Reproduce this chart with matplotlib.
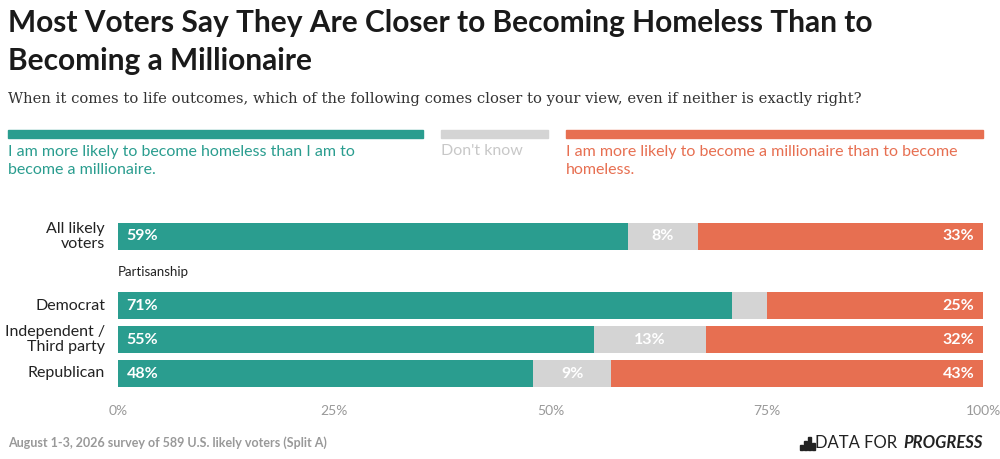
import matplotlib.pyplot as plt
from matplotlib.patches import Rectangle

groups = ['All likely\nvoters', 'Democrat', 'Independent /\nThird party', 'Republican']
homeless = [59, 71, 55, 48]
dont_know = [8, 4, 13, 9]
millionaire = [33, 25, 32, 43]
show_dk = [True, False, True, True]
ticks = [0, 25, 50, 75, 100]

GREEN = '#2a9d8f'
GREY = '#d4d4d4'
ORANGE = '#e76f51'

fig = plt.figure(figsize=(10, 4.59), dpi=100)
W, H = 1000, 459

def fx(px):
    return px / W

def fy(py):
    return 1 - py / H

fig.text(fx(8), fy(42), 'Most Voters Say They Are Closer to Becoming Homeless Than to\nBecoming a Millionaire',
         fontsize=21.5, fontweight='bold', family='Lato', va='center', color='#1a1a1a', linespacing=1.4)
fig.text(fx(8), fy(99), 'When it comes to life outcomes, which of the following comes closer to your view, even if neither is exactly right?',
         fontsize=10.6, family='DejaVu Serif', va='center', color='#333333')

# legend bars
for x0, x1, c in [(8, 423, GREEN), (441, 548, GREY), (566, 983, ORANGE)]:
    fig.patches.append(Rectangle((fx(x0), fy(138)), fx(x1 - x0), 8 / H, color=c, transform=fig.transFigure))
fig.text(fx(8), fy(161), 'I am more likely to become homeless than I am to\nbecome a millionaire.', color=GREEN,
         fontsize=11.5, family='Lato', va='center', linespacing=1.3)
fig.text(fx(441), fy(151), "Don't know", color='#c8c8c8', fontsize=11.5, family='Lato', va='center')
fig.text(fx(566), fy(161), 'I am more likely to become a millionaire than to become\nhomeless.', color=ORANGE,
         fontsize=11.5, family='Lato', va='center', linespacing=1.3)

ax = fig.add_axes([fx(118), fy(400), fx(983 - 118), (400 - 212) / H])
ax.set_xlim(0, 100)
ax.set_ylim(400, 212)
ypos = [236.5, 305.5, 339.5, 373.5]
for y, g, h, d, m, s in zip(ypos, groups, homeless, dont_know, millionaire, show_dk):
    ax.barh(y, h, height=27, color=GREEN)
    ax.barh(y, d, left=h, height=27, color=GREY)
    ax.barh(y, m, left=h + d, height=27, color=ORANGE)
    kw = dict(color='white', fontweight='bold', fontsize=11.5, family='Lato', va='center')
    ax.text(1, y, f'{h}%', ha='left', **kw)
    if s:
        ax.text(h + d / 2, y, f'{d}%', ha='center', **kw)
    ax.text(99, y, f'{m}%', ha='right', **kw)
    ax.text(-1.5, y, g, ha='right', va='center', fontsize=11.5, family='Lato', color='#222222', linespacing=1.1)
ax.text(0, 272, 'Partisanship', fontsize=9.5, family='Lato', va='center', color='#222222')
ax.axis('off')
for t in ticks:
    ax.text(t, 411, f'{t}%', ha='center', va='center', fontsize=10, family='Lato', color='#999999')

fig.text(fx(8), fy(443), 'August 1-3, 2026 survey of 589 U.S. likely voters (Split A)', fontsize=9,
         fontweight='bold', family='Lato', color='#999999', va='center')
fig.text(fx(983), fy(443), 'PROGRESS', fontsize=12, family='Lato', fontweight='bold', fontstyle='italic',
         color='#222222', va='center', ha='right')
fig.text(fx(897), fy(443), 'DATA FOR', fontsize=12, family='Lato', color='#222222', va='center', ha='right')
# small bar-chart logo
for i, hh in enumerate([5, 9, 13, 7]):
    fig.patches.append(Rectangle((fx(800 + i * 4), fy(450)), 2.5 / W, hh / H, color='#222222', transform=fig.transFigure))

fig.savefig('out.png', dpi=100, facecolor='white')
